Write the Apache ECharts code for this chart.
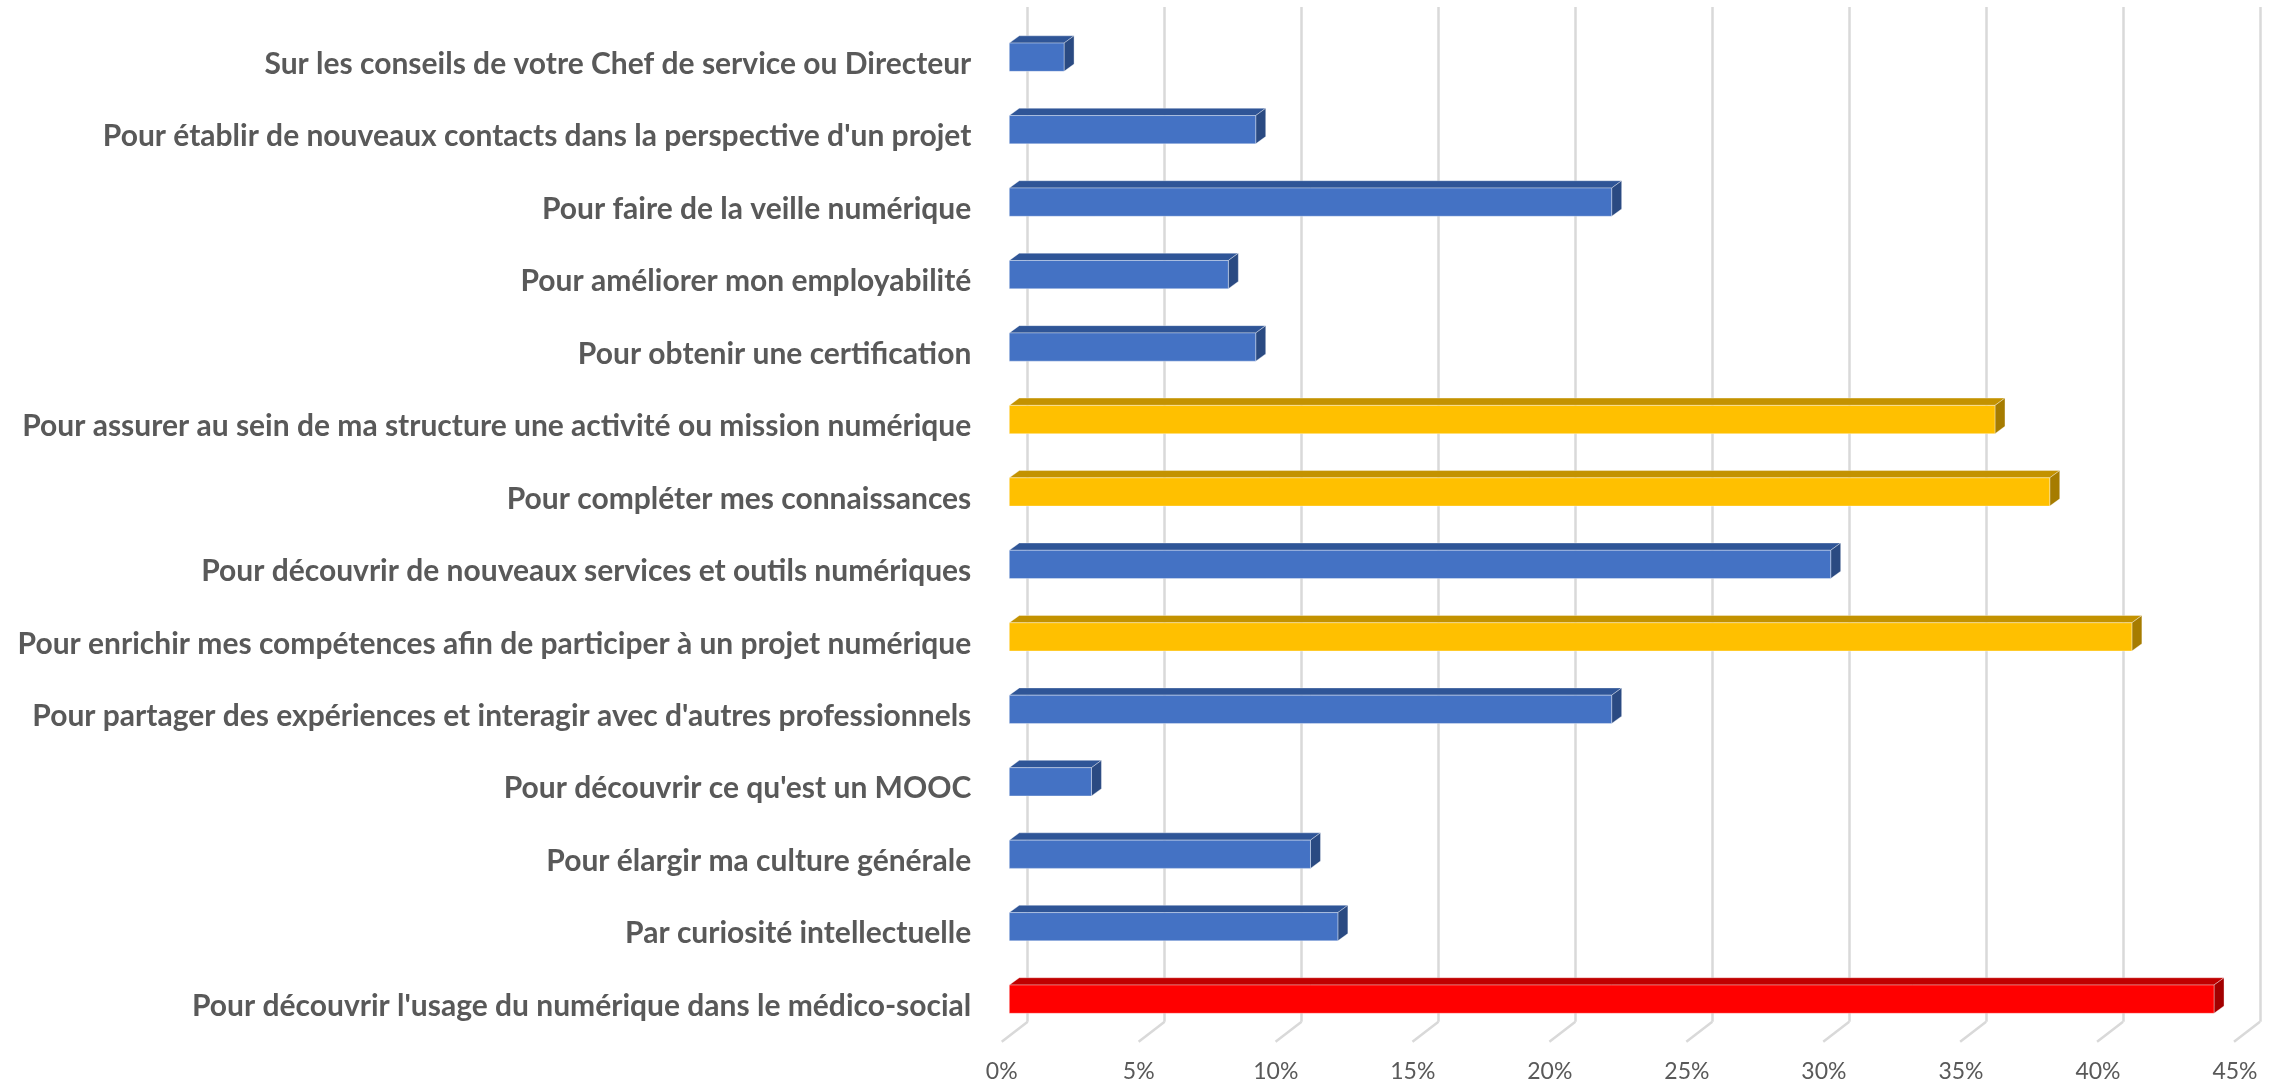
<!DOCTYPE html>
<html>
<head>
<meta charset="utf-8">
<script src="https://cdn.jsdelivr.net/npm/echarts@6/dist/echarts.min.js"></script>
<style>
  html, body { margin: 0; padding: 0; background: #fff; }
  #chart { width: 2279px; height: 1083px; }
</style>
</head>
<body>
<div id="chart"></div>
<script>
// motivations, top to bottom as in the chart
const reasons = [
  "Sur les conseils de votre Chef de service ou Directeur",
  "Pour établir de nouveaux contacts dans la perspective d'un projet",
  "Pour faire de la veille numérique",
  "Pour améliorer mon employabilité",
  "Pour obtenir une certification",
  "Pour assurer au sein de ma structure une activité ou mission numérique",
  "Pour compléter mes connaissances",
  "Pour découvrir de nouveaux services et outils numériques",
  "Pour enrichir mes compétences afin de participer à un projet numérique",
  "Pour partager des expériences et interagir avec d'autres professionnels",
  "Pour découvrir ce qu'est un MOOC",
  "Pour élargir ma culture générale",
  "Par curiosité intellectuelle",
  "Pour découvrir l'usage du numérique dans le médico-social"
];
// share of answers, in %
const shares = [2, 9, 22, 8, 9, 36, 38, 30, 41, 22, 3, 11, 12, 44];
const pctTicks = [0, 5, 10, 15, 20, 25, 30, 35, 40, 45];

// highlighted answers
const topReason = "Pour découvrir l'usage du numérique dans le médico-social";
const nextReasons = [
  "Pour assurer au sein de ma structure une activité ou mission numérique",
  "Pour compléter mes connaissances",
  "Pour enrichir mes compétences afin de participer à un projet numérique"
];

const palette = {
  blue:   { front: '#4472C4', top: '#2F5597', side: '#2A4A82' },
  yellow: { front: '#FFC000', top: '#C39200', side: '#A67C00' },
  red:    { front: '#FF0000', top: '#C00000', side: '#A30000' }
};
function colorsFor(name) {
  if (name === topReason) return palette.red;
  if (nextReasons.indexOf(name) >= 0) return palette.yellow;
  return palette.blue;
}

const DX = 10, DY = 7.3;       // bar depth
const FLOOR_DX = -26, FLOOR_DY = 20;
const fontFam = 'Lato, "Open Sans", sans-serif';

function renderBar(params, api) {
  const v = api.value(0);
  const cat = api.value(1);
  const p0 = api.coord([0, cat]);
  const p1 = api.coord([v, cat]);
  const h = api.size([0, 1])[1] * 0.39;
  const c = colorsFor(reasons[cat]);
  const x0 = p0[0], x1 = p1[0];
  const yT = p1[1] - h / 2, yB = p1[1] + h / 2;
  const edge = { stroke: 'rgba(255,255,255,0.35)', lineWidth: 1 };
  return {
    type: 'group',
    children: [
      { type: 'polygon', shape: { points: [[x0, yT], [x1, yT], [x1 + DX, yT - DY], [x0 + DX, yT - DY]] },
        style: Object.assign({ fill: c.top }, edge) },
      { type: 'polygon', shape: { points: [[x1, yT], [x1 + DX, yT - DY], [x1 + DX, yB - DY], [x1, yB]] },
        style: Object.assign({ fill: c.side }, edge) },
      { type: 'rect', shape: { x: x0, y: yT, width: x1 - x0, height: h },
        style: Object.assign({ fill: c.front }, edge) }
    ]
  };
}

function renderFloorLine(params, api) {
  const p = api.coord([api.value(0), 0]);
  return {
    type: 'line',
    shape: { x1: p[0], y1: p[1], x2: p[0] + FLOOR_DX, y2: p[1] + FLOOR_DY },
    style: { stroke: '#D9D9D9', lineWidth: 2.5 }
  };
}

const hidden = { axisLine: { show: false }, axisTick: { show: false },
  axisLabel: { show: false }, splitLine: { show: false } };

const chart = echarts.init(document.getElementById('chart'));
chart.setOption({
  animation: false,
  grid: [
    // back wall
    { left: 1027.7, right: 19, top: 7, bottom: 61.3 },
    // front face of the bars
    { left: 1009.3, right: 37.6, top: 21, bottom: 47.6 },
    // front edge of the floor
    { left: 1001.7, right: 44, top: 1000, bottom: 41.3 },
    // category labels (sit slightly lower than the bars)
    { left: 1009.3, right: 37.6, top: 28, bottom: 40.6 }
  ],
  xAxis: [
    Object.assign({ gridIndex: 0, type: 'value', min: 0, max: 45, interval: 5 }, hidden,
      { splitLine: { show: true, lineStyle: { color: '#D9D9D9', width: 2.5 } } }),
    Object.assign({ gridIndex: 1, type: 'value', min: 0, max: 45, interval: 5 }, hidden),
    { gridIndex: 2, type: 'value', min: 0, max: 45, interval: 5,
      axisLine: { show: false }, axisTick: { show: false }, splitLine: { show: false },
      axisLabel: { formatter: '{value}%', color: '#595959', fontSize: 23,
        fontFamily: fontFam, margin: 20 } },
    Object.assign({ gridIndex: 3, type: 'value', min: 0, max: 45 }, hidden)
  ],
  yAxis: [
    { gridIndex: 0, type: 'value', min: 0, max: 1, show: false },
    Object.assign({ gridIndex: 1, type: 'category', data: reasons, inverse: true }, hidden),
    { gridIndex: 2, type: 'value', min: 0, max: 1, show: false },
    { gridIndex: 3, type: 'category', data: reasons, inverse: true,
      axisLine: { show: false }, axisTick: { show: false }, splitLine: { show: false },
      axisLabel: { color: '#595959', fontSize: 30, fontWeight: 'bold',
        fontFamily: fontFam, margin: 38 } }
  ],
  series: [
    { type: 'custom', xAxisIndex: 0, yAxisIndex: 0, renderItem: renderFloorLine,
      data: pctTicks.map(t => [t]), encode: { x: 0 }, silent: true },
    { type: 'custom', xAxisIndex: 1, yAxisIndex: 1, renderItem: renderBar,
      data: shares.map((v, i) => [v, i]), encode: { x: 0, y: 1 } }
  ]
});
</script>
</body>
</html>
